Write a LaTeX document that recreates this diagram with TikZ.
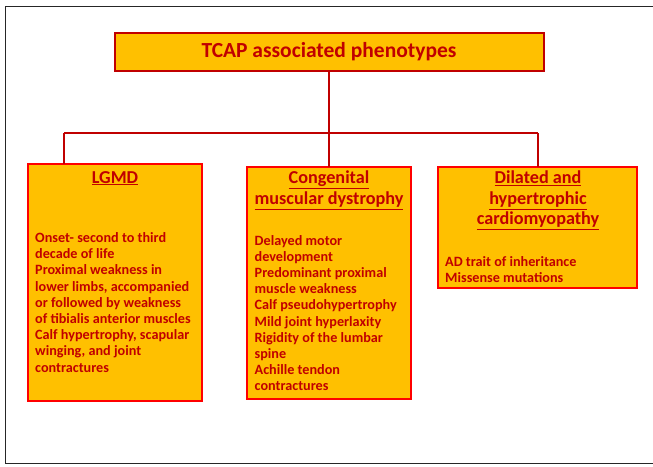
\documentclass[tikz,border=0pt]{standalone}
\usepackage{fontspec}
\setmainfont{Carlito}
\definecolor{boxfill}{HTML}{FFC000}
\definecolor{boxedge}{HTML}{FF0000}
\definecolor{textred}{HTML}{C00000}
\definecolor{linkred}{HTML}{C00000}
\begin{document}
\begin{tikzpicture}[x=1pt,y=-1pt,
  panel/.style={draw=boxedge, fill=boxfill, line width=1.6pt},
  titlepanel/.style={draw=textred, fill=boxfill, line width=1.6pt},
  link/.style={draw=linkred, line width=1.6pt},
  headtext/.style={text=textred, font=\fontsize{18.2}{20.5}\selectfont\bfseries, align=center, inner sep=0pt},
  bodytext/.style={text=textred, font=\fontsize{14.2}{16.2}\selectfont\bfseries, align=left, inner sep=0pt, anchor=north west},
  titletext/.style={text=textred, font=\fontsize{21.5}{24}\selectfont\bfseries, inner sep=0pt}]
  \useasboundingbox (0,0) rectangle (653,466);
  % outer frame
  \draw[black!85, line width=0.8pt] (5,6) -- (5,463.5) -- (653,463.5);
  \draw[black!85, line width=0.8pt] (5,6) -- (653,6);

  % boxes
  \path[titlepanel] (115,33) rectangle (544,71);
  \node[titletext] (title) at (329,52) {TCAP associated phenotypes};
  \coordinate (titleS) at (329,71);

  \path[panel] (28,164) rectangle (202,401);
  \coordinate (lgmdN) at (64,164);
  \path[panel] (247,167) rectangle (411,399);
  \coordinate (cmdN) at (329,167);
  \path[panel] (438,167) rectangle (637,288);
  \coordinate (cardN) at (538,167);

  % connectors
  \coordinate (busL) at (64,133);
  \coordinate (busM) at (329,133);
  \coordinate (busR) at (538,133);
  \draw[link] (titleS) -- (busM);
  \draw[link] (busL) -- (busR);
  \draw[link] (busL) -- (lgmdN);
  \draw[link] (busM) -- (cmdN);
  \draw[link] (busR) -- (cardN);

  % headings
  \node[headtext, anchor=north] (lgmdH) at (115,171) {\underline{LGMD}};
  \node[headtext, anchor=north] (cmdH) at (329,171) {\underline{Congenital}\\\underline{muscular dystrophy}};
  \node[headtext, anchor=north] (cardH) at (538,171) {\underline{Dilated and}\\\underline{hypertrophic}\\\underline{cardiomyopathy}};

  % descriptions
  \node[bodytext] (lgmdB) at (35,231) {\strut Onset- second to third\\decade of life\\Proximal weakness in\\lower limbs, accompanied\\or followed by weakness\\of tibialis anterior muscles\\Calf hypertrophy, scapular\\winging, and joint\\contractures};
  \node[bodytext] (cmdB) at (254.5,233.5) {\strut Delayed motor\\development\\Predominant proximal\\muscle weakness\\Calf pseudohypertrophy\\Mild joint hyperlaxity\\Rigidity of the lumbar\\spine\\Achille tendon\\contractures};
  \node[bodytext] (cardB) at (445,254.5) {\strut AD trait of inheritance\\Missense mutations};
\end{tikzpicture}
\end{document}
